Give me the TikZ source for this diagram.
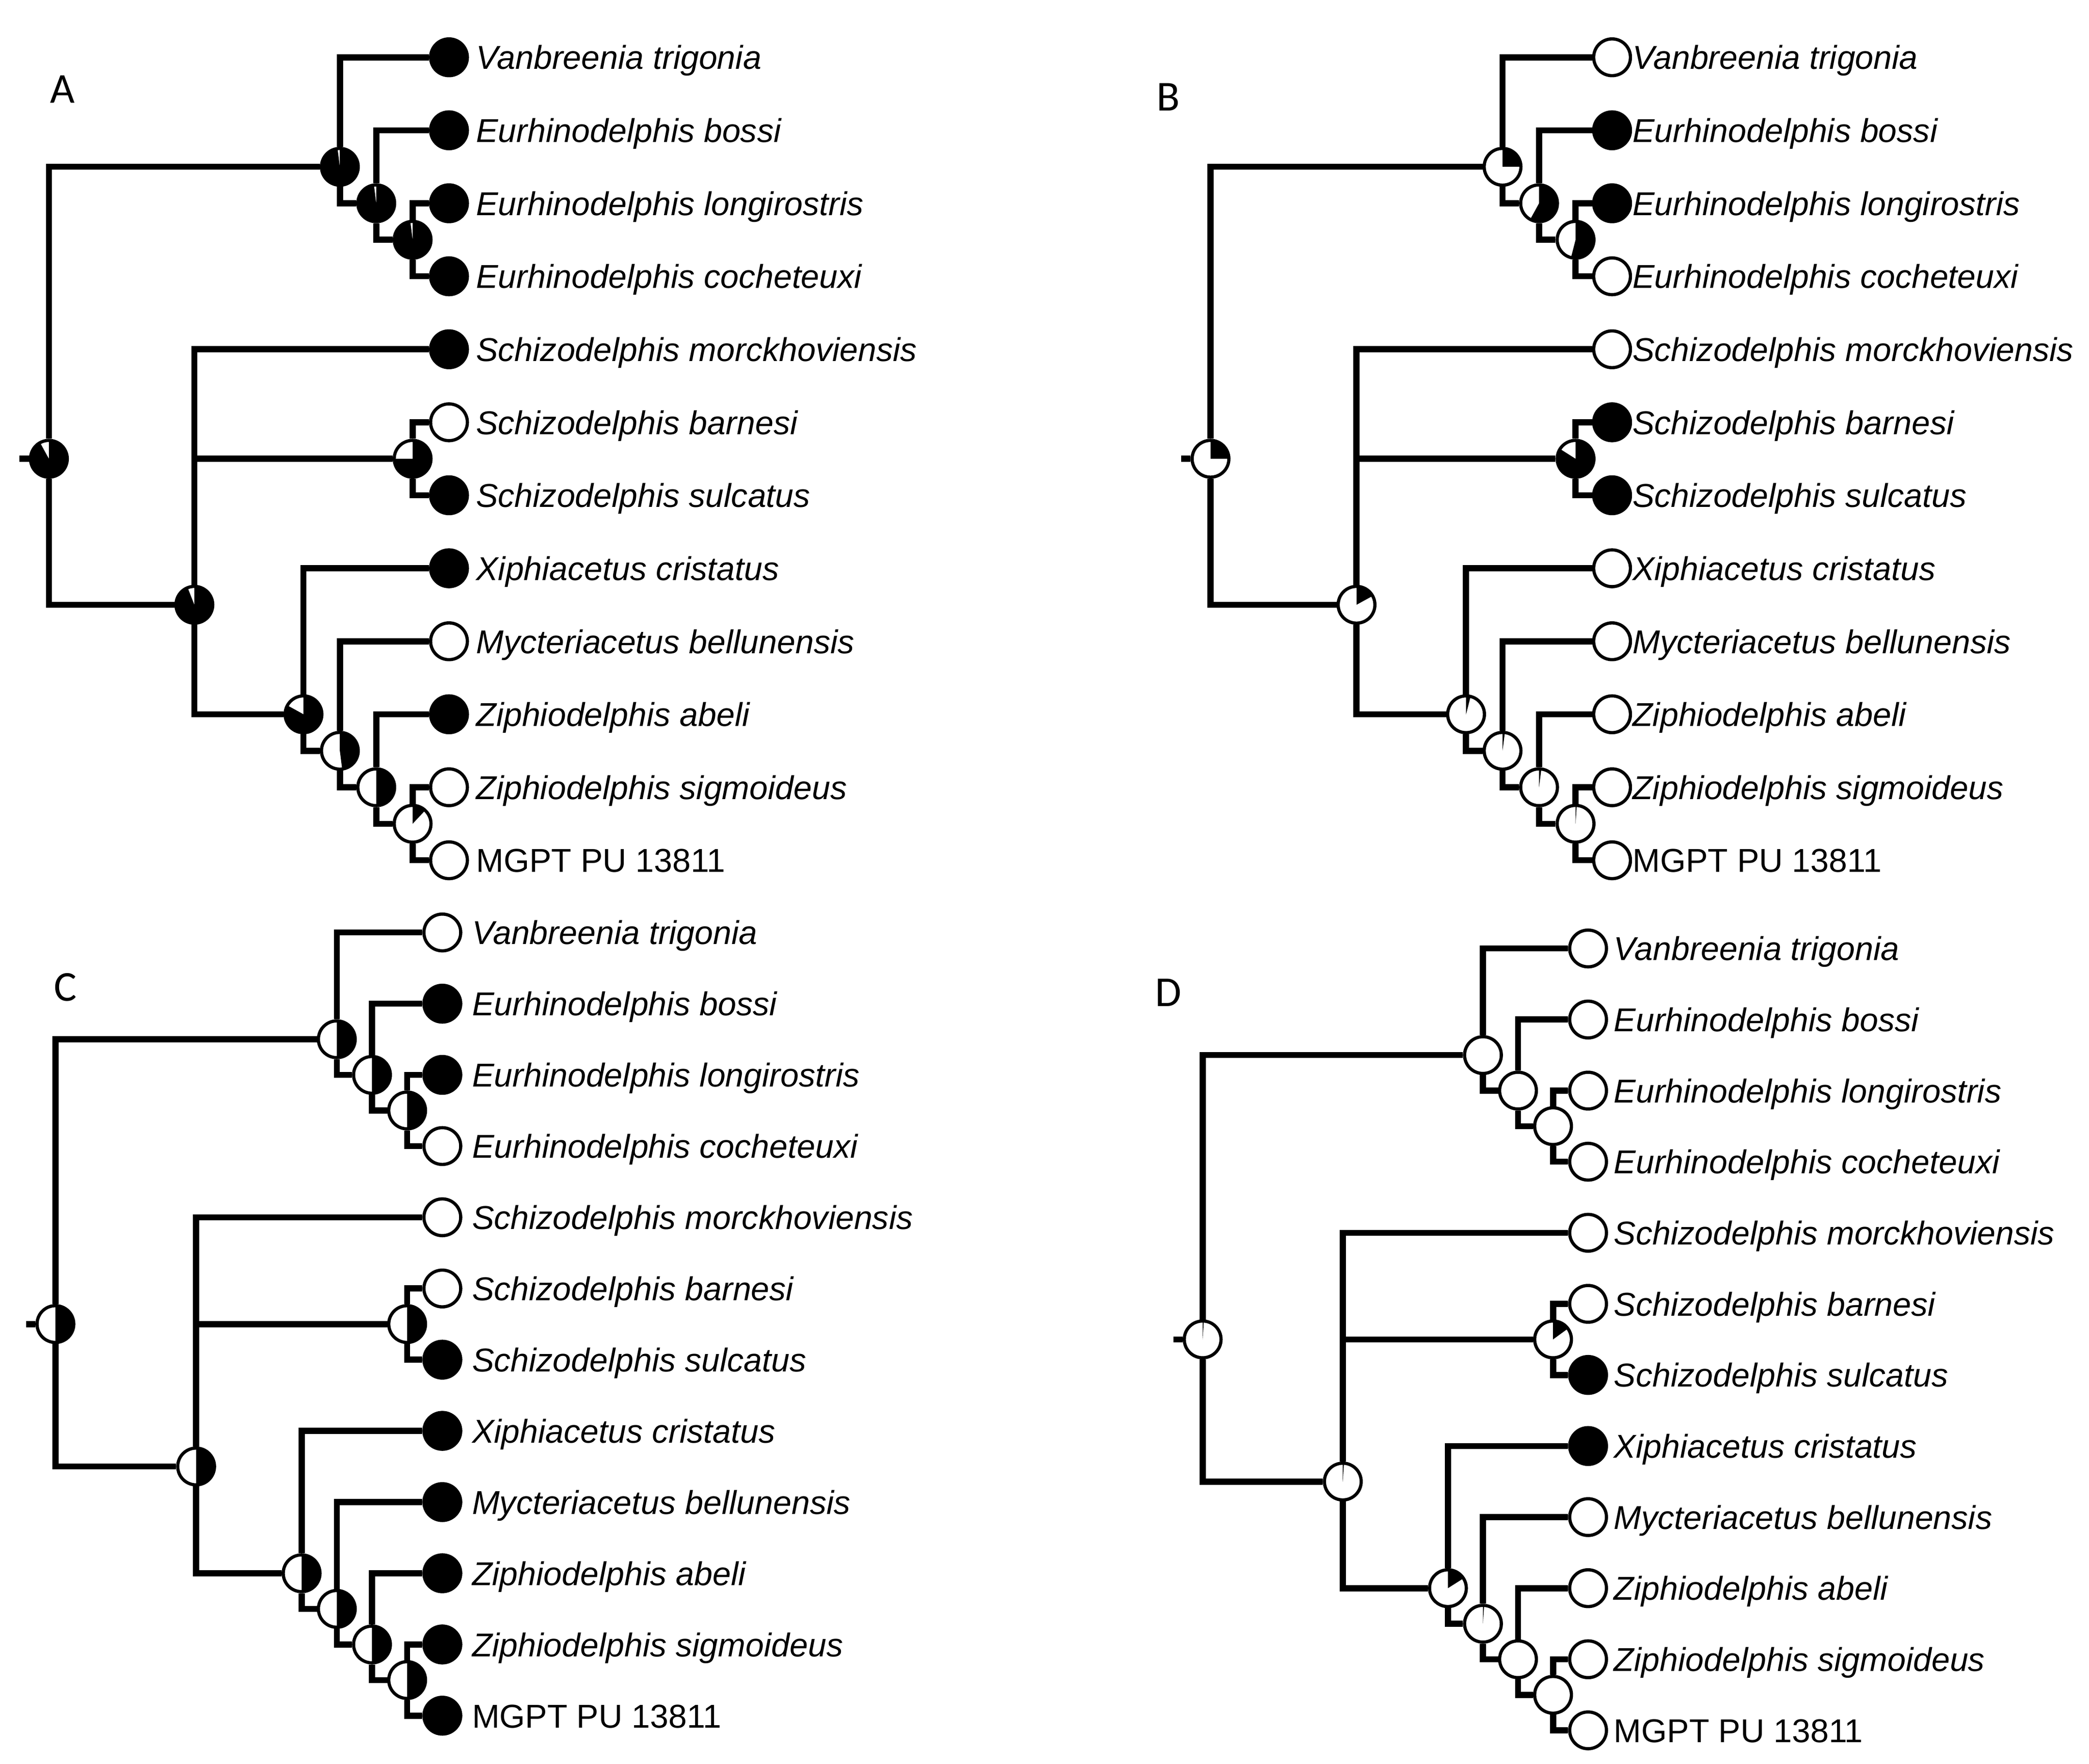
\documentclass[tikz,border=0pt]{standalone}
\usepackage{fontspec}
\setmainfont{Liberation Sans}
\newfontfamily\panelfont{Carlito}
\usepackage{tikz}

\begin{document}
\begin{tikzpicture}[x=0.5pt, y=-0.5pt,
  branch/.style={line width=2.3pt},
  pie/.style={circle, draw, line width=1.2pt, fill=white, minimum size=13.8pt, inner sep=0pt,
    path picture={\pgfmathsetmacro\pf{#1}\ifdim\pf pt>0pt
      \fill[black] (path picture bounding box.center) -- ++(90:8pt)
      arc[start angle=90, delta angle={-360*\pf}, radius=8pt] -- cycle;\fi}},
  taxon/.style={anchor=base west, inner sep=0pt, font=\itshape\fontsize{12.4}{14}\selectfont},
  panel/.style={font=\panelfont\fontsize{16}{18}\selectfont}]
\useasboundingbox (0,0) rectangle (1568,1324.2);
% one tree per panel: letter, tip x, first tip y, tip spacing, node step, label offset, letter position, node and tip states
\foreach \P/\tx/\ty/\dy/\st/\lo/\px/\py/\F/\T in {
  A/337/43/54.8/27.3/20/47/67/{0.92,0.98,0.98,0.98,0.94,0.75,0.83,0.48,0.5,0.12}/{1,1,1,1,1,0,1,1,0,1,0,0},
  B/1210/43/54.8/27.4/15/877/73/{0.25,0.25,0.58,0.54,0.17,0.84,0.04,0.02,0.02,0.01}/{0,1,1,0,0,1,1,0,0,0,0,0},
  C/332/700/53.45/26.4/22/49/741/{0.5,0.5,0.5,0.5,0.5,0.5,0.5,0.5,0.5,0.5}/{0,1,1,0,0,0,1,1,1,1,1,1},
  D/1192/712/53.36/26.3/19/877/745/{0.01,0,0,0,0.01,0.15,0.16,0.01,0,0}/{0,0,0,0,0,0,1,1,0,0,0,0}} {
  \node[panel] (p\P) at (\px,\py) {\P};
  \foreach \f [count=\i] in \T
    \node[pie=\f] (\P\i) at ({\tx},{\ty+(\i-1)*\dy}) {};
  \foreach \nm [count=\i] in {Vanbreenia trigonia, Eurhinodelphis bossi, Eurhinodelphis longirostris,
      Eurhinodelphis cocheteuxi, Schizodelphis morckhoviensis, Schizodelphis barnesi,
      Schizodelphis sulcatus, Xiphiacetus cristatus, Mycteriacetus bellunensis,
      Ziphiodelphis abeli, Ziphiodelphis sigmoideus, {\upshape MGPT PU 13811}}
    \node[taxon] (\P l\i) at ({\tx+\lo},{\ty+(\i-1)*\dy+9}) {\nm};
  \foreach \nm/\a/\b [count=\k] in {r/1/12, n1/1/4, n2/2/4, n3/3/4, sx/5/12, sp/6/7, x1/8/12, x2/9/12, x3/10/12, x4/11/12} {
    \pgfmathsetmacro\fr{{\F}[\k-1]}
    \node[pie=\fr] (\P\nm) at ({\tx-(\b-\a)*\st},{\ty+((\a+\b)/2-1)*\dy}) {};
  }
  \coordinate (\P s) at ({\tx-11*\st-22},{\ty+5.5*\dy});
  \draw[branch] (\P s) -- (\P r);
  \foreach \p/\c in {r/n1, r/sx, n1/1, n1/n2, n2/2, n2/n3, n3/3, n3/4, sx/5, sx/sp, sx/x1,
      sp/6, sp/7, x1/8, x1/x2, x2/9, x2/x3, x3/10, x3/x4, x4/11, x4/12}
    \draw[branch] (\P\p) |- (\P\c);
}
\end{tikzpicture}
\end{document}
